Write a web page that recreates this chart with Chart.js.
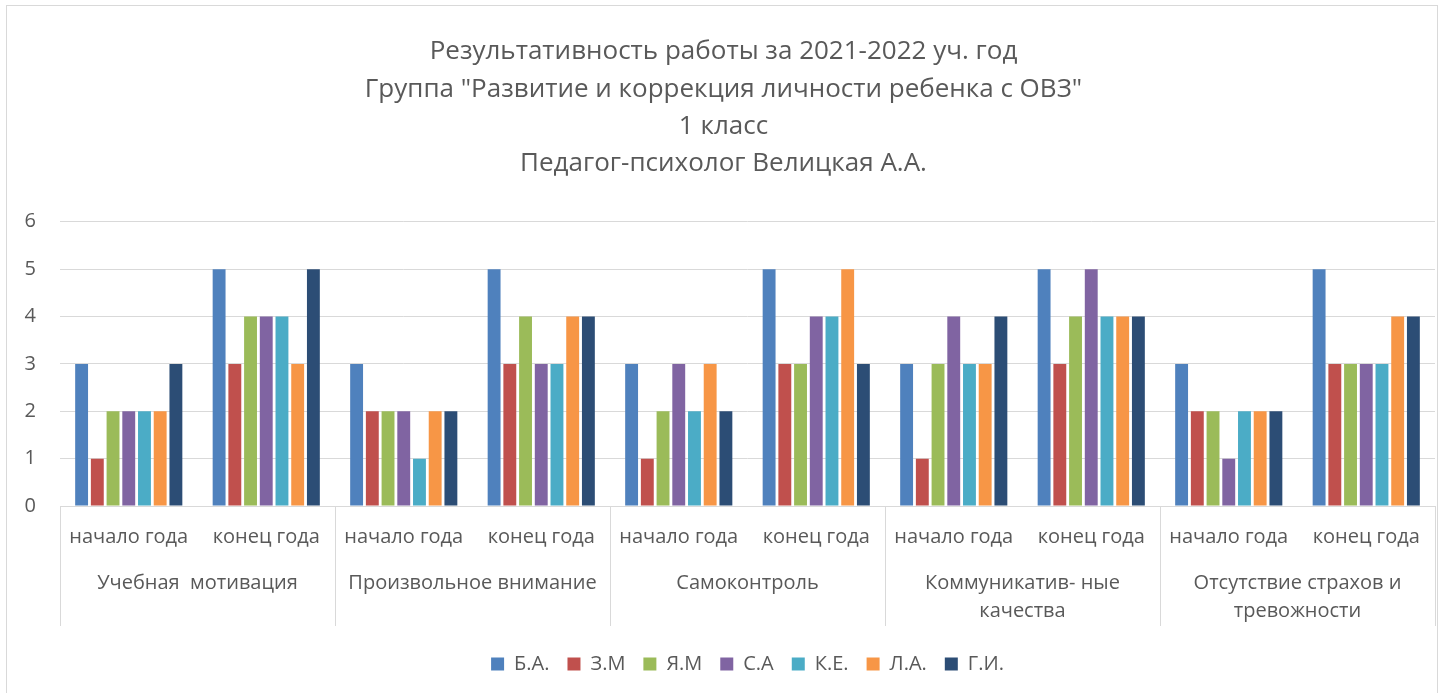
<!DOCTYPE html>
<html>
<head>
<meta charset="utf-8">
<script src="https://cdn.jsdelivr.net/npm/chart.js@4"></script>
<style>
  html, body { margin: 0; padding: 0; background: #fff; }
  #wrap { width: 1444px; height: 693px; position: relative; }
</style>
</head>
<body>
<div id="wrap"><canvas id="resultChart" width="1444" height="693"></canvas></div>
<script>
// Periods (inner x labels) and groups (outer x labels)
const periods = ['начало года', 'конец года', 'начало года', 'конец года', 'начало года',
  'конец года', 'начало года', 'конец года', 'начало года', 'конец года'];
const groups = [
  'Учебная  мотивация',
  'Произвольное внимание',
  'Самоконтроль',
  ['Коммуникатив- ные', 'качества'],
  ['Отсутствие страхов и', 'тревожности'],
];

// Series values (начало / конец for each group)
const seriesBA = [3, 5, 3, 5, 3, 5, 3, 5, 3, 5];
const seriesZM = [1, 3, 2, 3, 1, 3, 1, 3, 2, 3];
const seriesYaM = [2, 4, 2, 4, 2, 3, 3, 4, 2, 3];
const seriesSA = [2, 4, 2, 3, 3, 4, 4, 5, 1, 3];
const seriesKE = [2, 4, 1, 3, 2, 4, 3, 4, 2, 3];
const seriesLA = [2, 3, 2, 4, 3, 5, 3, 4, 2, 4];
const seriesGI = [3, 5, 2, 4, 2, 3, 4, 4, 2, 4];

const titleLines = [
  'Результативность работы за 2021-2022 уч. год',
  'Группа "Развитие и коррекция личности ребенка с ОВЗ"',
  '1 класс',
  'Педагог-психолог Велицкая А.А.',
];

const textColor = '#595959';
const gridColor = '#d9d9d9';
const fontFamily = '"Open Sans", "Noto Sans", sans-serif';
const x2Gap = 10; // blank space under the group separators

// Frame around the chart + separators between groups under the axis
const framePlugin = {
  id: 'frame',
  beforeDraw(chart) {
    const c = chart.ctx;
    c.save();
    c.fillStyle = '#fff';
    c.fillRect(0, 0, chart.width, chart.height);
    c.strokeStyle = gridColor;
    c.lineWidth = 1;
    c.strokeRect(6.5, 5.5, 1431, 700);
    c.restore();
  },
  afterDraw(chart) {
    const x = chart.scales.x;
    const x2 = chart.scales.x2;
    const c = chart.ctx;
    c.save();
    c.strokeStyle = gridColor;
    c.lineWidth = 1;
    const bounds = [x.left, x.right];
    for (let i = 1; i < periods.length - 1; i += 2) {
      bounds.push((x.getPixelForValue(i) + x.getPixelForValue(i + 1)) / 2);
    }
    bounds.forEach((px) => {
      const p = Math.round(px) + 0.5;
      c.beginPath();
      c.moveTo(p, x.top);
      c.lineTo(p, x2.bottom - x2Gap);
      c.stroke();
    });
    c.restore();
  },
};

const ctx = document.getElementById('resultChart').getContext('2d');

new Chart(ctx, {
  type: 'bar',
  data: {
    labels: periods,
    datasets: [
      { label: 'Б.А.', data: seriesBA, backgroundColor: '#4F81BD' },
      { label: 'З.М', data: seriesZM, backgroundColor: '#C0504D' },
      { label: 'Я.М', data: seriesYaM, backgroundColor: '#9BBB59' },
      { label: 'С.А', data: seriesSA, backgroundColor: '#8064A2' },
      { label: 'К.Е.', data: seriesKE, backgroundColor: '#4BACC6' },
      { label: 'Л.А.', data: seriesLA, backgroundColor: '#F79646' },
      { label: 'Г.И.', data: seriesGI, backgroundColor: '#2C4D75' },
    ],
  },
  plugins: [framePlugin],
  options: {
    responsive: false,
    animation: false,
    categoryPercentage: 0.8,
    barPercentage: 0.82,
    layout: {
      padding: { left: 12, right: 9, top: 0, bottom: 9 },
    },
    plugins: {
      title: {
        display: true,
        text: titleLines,
        color: textColor,
        font: { family: fontFamily, size: 26, weight: 'normal', lineHeight: 1.44 },
        padding: { top: 33, bottom: 39 },
      },
      legend: {
        position: 'bottom',
        fullSize: false,
        labels: {
          color: textColor,
          boxWidth: 13,
          boxHeight: 13,
          padding: 18,
          font: { family: fontFamily, size: 20 },
        },
      },
      tooltip: { enabled: false },
    },
    scales: {
      x: {
        position: 'bottom',
        grid: { display: false, drawTicks: false },
        border: { display: true, color: gridColor },
        ticks: {
          color: textColor,
          font: { family: fontFamily, size: 20 },
          padding: 19,
          maxRotation: 0,
          autoSkip: false,
        },
        afterFit(axis) {
          axis.height = 46;
        },
      },
      x2: {
        type: 'category',
        position: 'bottom',
        labels: groups,
        offset: true,
        grid: { display: false, drawTicks: false },
        border: { display: false },
        ticks: {
          color: textColor,
          font: { family: fontFamily, size: 20, lineHeight: 1.4 },
          padding: 17,
          maxRotation: 0,
          autoSkip: false,
        },
        afterFit(axis) {
          axis.height = 84;
        },
      },
      y: {
        min: 0,
        max: 6,
        ticks: {
          stepSize: 1,
          color: textColor,
          font: { family: fontFamily, size: 20 },
          padding: 24,
        },
        grid: { color: gridColor, drawTicks: false },
        border: { display: false },
        afterFit(axis) {
          axis.width = 48;
        },
      },
    },
  },
});
</script>
</body>
</html>
